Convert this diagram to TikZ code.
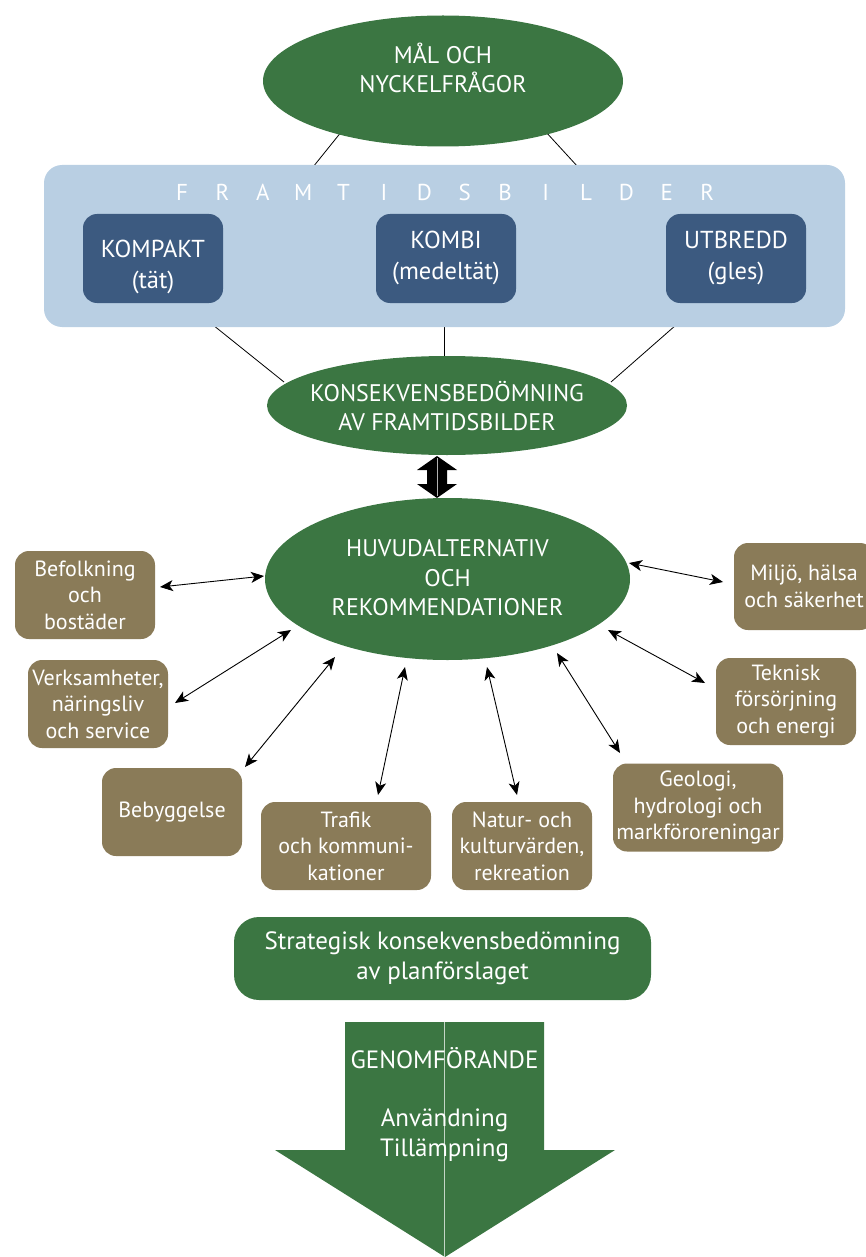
\documentclass[tikz,border=0pt]{standalone}
\usepackage{fontspec}
\setmainfont{PT Sans}
\usetikzlibrary{shapes.geometric,arrows.meta}
\definecolor{dgreen}{RGB}{59,118,66}
\definecolor{lblue}{RGB}{185,207,227}
\definecolor{dblue}{RGB}{60,90,128}
\definecolor{brownbox}{RGB}{138,123,88}
\tikzset{
  ell/.style={ellipse,fill=dgreen,inner sep=0pt},
  elltext/.style={text=white,align=center,inner sep=0pt,font=\fontsize{24}{29.5}\selectfont},
  bluebox/.style={rectangle,rounded corners=14pt,fill=dblue,minimum width=140pt,minimum height=89pt},
  bluetext/.style={text=white,align=center,inner sep=0pt,font=\fontsize{24.5}{30.5}\selectfont},
  brbox/.style={rectangle,rounded corners=14pt,fill=brownbox,text=white,minimum width=140pt,minimum height=88pt,align=center,inner sep=1pt,font=\fontsize{22}{26.5}\selectfont},
  conn/.style={draw=black,line width=0.8pt},
  dbl/.style={draw=black,line width=0.9pt,{Stealth[length=13pt,width=11pt,inset=3.5pt]}-{Stealth[length=13pt,width=11pt,inset=3.5pt]}},
  letter/.style={text=white,font=\fontsize{23}{26}\selectfont,inner sep=0pt},
}
\begin{document}
\begin{tikzpicture}[x=1pt,y=-1pt]
\useasboundingbox (0,0) rectangle (865,1257);
% connectors behind
\coordinate (m1) at (342,131); \coordinate (p1) at (313,167);
\coordinate (m2) at (545,131); \coordinate (p2) at (578,167);
\coordinate (q1) at (213,325); \coordinate (k1) at (284,382);
\coordinate (q2) at (444,325); \coordinate (k2) at (444,358);
\coordinate (q3) at (676,325); \coordinate (k3) at (611,382);
\draw[conn] (m1) -- (p1);
\draw[conn] (m2) -- (p2);
\draw[conn] (q1) -- (k1);
\draw[conn] (q2) -- (k2);
\draw[conn] (q3) -- (k3);
% top ellipse
\node[ell,minimum width=360pt,minimum height=131pt] (mal) at (443,81) {};
\node[elltext] (maltext) at (443,68) {MÅL OCH\\NYCKELFRÅGOR};
% panel
\node[rectangle,rounded corners=18pt,fill=lblue,minimum width=801pt,minimum height=162pt,inner sep=0pt] (panel) at (444.5,246) {};
\foreach \l [count=\i from 0] in {F,R,A,M,T,I,D,S,B,I,L,D,E,R}
  \node[letter] (fl\i) at (182+40.4*\i,192) {\l};
\node[bluebox] (kompakt) at (153,258.5) {};
\node[bluetext] (kompakttext) at (153,267) {KOMPAKT\\(tät)};
\node[bluebox] (kombi) at (446,258.5) {};
\node[bluetext] (kombitext) at (446,258) {KOMBI\\(medeltät)};
\node[bluebox] (utbredd) at (736,258.5) {};
\node[bluetext] (utbreddtext) at (736,258) {UTBREDD\\(gles)};
% ellipse 2
\node[ell,minimum width=360pt,minimum height=99pt] (kons) at (447,405.5) {};
\node[elltext] (konstext) at (447,406) {KONSEKVENSBEDÖMNING\\AV FRAMTIDSBILDER};
% double block arrow
\fill[black] (437,456) -- (457,470) -- (447,470) -- (447,484) -- (457,484) -- (437,498) -- (417,484) -- (427,484) -- (427,470) -- (417,470) -- cycle;
\draw[gray!60,line width=0.4pt] (437,458) -- (437,496);
% ellipse 3
\node[ell,minimum width=365pt,minimum height=162pt] (huv) at (447.5,579) {};
\node[elltext] (huvtext) at (447.5,578) {HUVUDALTERNATIV\\OCH\\REKOMMENDATIONER};
% brown boxes
\node[brbox] (bef) at (85,595) {Befolkning\\och\\bostäder};
\node[brbox] (ver) at (98,704) {Verksamheter,\\näringsliv\\och service};
\node[brbox] (beb) at (172,812) {Bebyggelse};
\node[brbox,minimum width=170pt] (tra) at (346,846) {Trafik\\och kommuni-\\kationer};
\node[brbox] (nat) at (522,846) {Natur- och\\kulturvärden,\\rekreation};
\node[brbox,minimum width=170pt] (geo) at (698,807.5) {Geologi,\\hydrologi och\\markföroreningar};
\node[brbox,minimum height=87pt] (tek) at (786,701.5) {Teknisk\\försörjning\\och energi};
\node[brbox,minimum width=140pt,minimum height=87pt] (mil) at (804,586.5) {Miljö, hälsa\\och säkerhet};
% arrows
\coordinate (a1) at (160,587); \coordinate (b1) at (264,576);
\coordinate (a2) at (175,703); \coordinate (b2) at (291,630);
\coordinate (a3) at (245,767); \coordinate (b3) at (335,657);
\coordinate (a4) at (378,795); \coordinate (b4) at (405,667);
\coordinate (a5) at (517,795); \coordinate (b5) at (487,667);
\coordinate (a6) at (620,753); \coordinate (b6) at (557,653);
\coordinate (a7) at (705,683); \coordinate (b7) at (608,630);
\coordinate (a8) at (723,582); \coordinate (b8) at (629,563);
\draw[dbl] (a1) -- (b1);
\draw[dbl] (a2) -- (b2);
\draw[dbl] (a3) -- (b3);
\draw[dbl] (a4) -- (b4);
\draw[dbl] (a5) -- (b5);
\draw[dbl] (a6) -- (b6);
\draw[dbl] (a7) -- (b7);
\draw[dbl] (a8) -- (b8);
% strategisk
\node[rectangle,rounded corners=25pt,fill=dgreen,text=white,minimum width=417pt,minimum height=83pt,align=center,font=\fontsize{25}{30}\selectfont] (strat) at (442.5,958.5) {Strategisk konsekvensbedömning\\av planförslaget};
% big arrow
\fill[dgreen] (345,1022) -- (544,1022) -- (544,1150) -- (615,1150) -- (445,1257) -- (275,1150) -- (345,1150) -- cycle;
\draw[white!70!dgreen,line width=0.5pt] (444.5,1022) -- (444.5,1257);
\node[text=white,font=\fontsize{25}{28}\selectfont,inner sep=0pt] (gen) at (444.5,1058) {GENOMFÖRANDE};
\node[text=white,font=\fontsize{25}{30}\selectfont,align=center,inner sep=0pt] (anv) at (444.5,1135) {Användning\\Tillämpning};
\end{tikzpicture}
\end{document}
